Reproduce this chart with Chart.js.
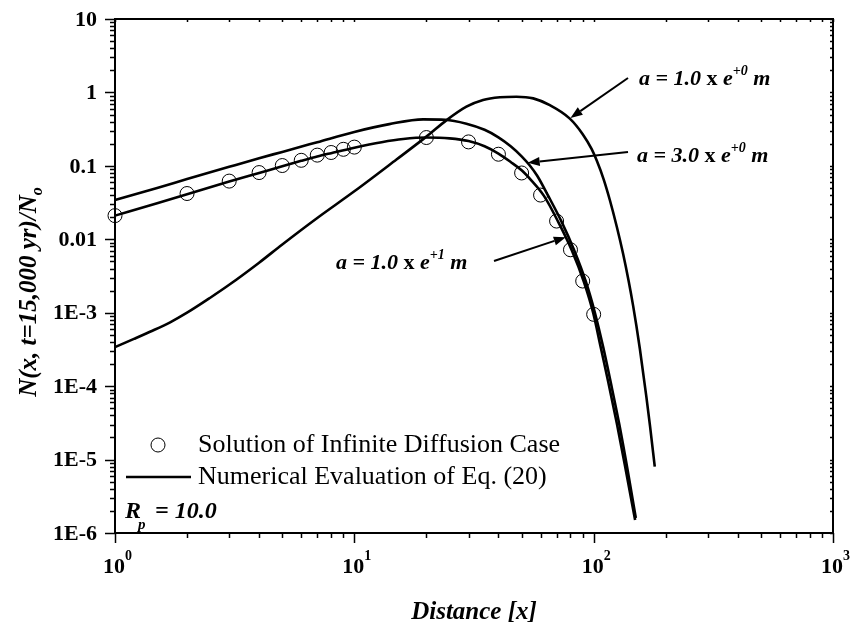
<!DOCTYPE html>
<html><head><meta charset="utf-8">
<script src="https://cdn.jsdelivr.net/npm/chart.js@4"></script>
<style>html,body{margin:0;padding:0;background:#fff}#wrap{width:850px;height:625px;position:relative}</style>
</head><body><div id="wrap"><canvas id="c" width="850" height="625"></canvas></div>
<script>
// ---- data ----
const circleX = [1, 2, 3, 4, 5, 6, 7, 8, 9, 10, 20, 30, 40, 50, 60, 70, 80, 90, 100];
const circleY = [0.021, 0.042, 0.062, 0.081, 0.101, 0.119, 0.14, 0.152, 0.168, 0.18, 0.243, 0.212, 0.144, 0.08, 0.04, 0.0177, 0.0072, 0.0027, 0.00095];

// a = 3.0 x e^+0 m
const xA = [1, 1.5, 2, 3, 4, 5, 7, 10, 14, 19.4, 24, 29.4, 35, 40, 45, 50, 54, 58, 64.6, 73.4, 82.9, 92.8, 101.2, 109.6, 118, 128, 140, 150];
const yA = [0.0343, 0.05, 0.066, 0.097, 0.127, 0.155, 0.21, 0.29, 0.37, 0.43, 0.425, 0.375, 0.31, 0.245, 0.185, 0.135, 0.102, 0.074, 0.039, 0.0174, 0.0071, 0.00264, 0.001, 0.00034, 0.00011, 0.00003, 0.000006, 0.0000016];

// a = 1.0 x e^+1 m
const xB = [1, 1.5, 2, 3, 4, 5, 6, 7, 8, 10, 13, 16, 20, 25, 30, 35, 40, 45, 50, 55, 62, 71, 81, 91, 99.5, 107, 115, 125, 137, 149];
const yB = [0.021, 0.031, 0.041, 0.061, 0.08, 0.099, 0.117, 0.134, 0.149, 0.177, 0.21, 0.232, 0.243, 0.237, 0.218, 0.185, 0.147, 0.113, 0.087, 0.063, 0.039, 0.0174, 0.0071, 0.00264, 0.001, 0.00034, 0.000115, 0.000031, 0.0000065, 0.0000015];

// a = 1.0 x e^+0 m
const xC = [1, 1.2, 1.4, 1.7, 2, 2.5, 3, 4, 5, 7, 10, 15, 20, 24.3, 29.4, 34.5, 40.6, 47.6, 55.9, 65.6, 79.5, 90, 98, 103, 110, 116.9, 125, 132.8, 140, 146.2, 151, 156, 166, 172, 180];
const yC = [0.00034, 0.00044, 0.00055, 0.00074, 0.001, 0.0016, 0.0024, 0.0048, 0.0085, 0.0195, 0.045, 0.122, 0.25, 0.42, 0.64, 0.79, 0.86, 0.875, 0.83, 0.67, 0.44, 0.27, 0.17, 0.118, 0.066, 0.034, 0.0147, 0.0063, 0.0027, 0.00124, 0.00065, 0.00032, 0.000072, 0.0000285, 0.000008];

const yTickValues = [10, 1, 0.1, 0.01, 1e-3, 1e-4, 1e-5, 1e-6];
const yTickLabels = ["10", "1", "0.1", "0.01", "1E-3", "1E-4", "1E-5", "1E-6"];
const xTickValues = [1, 10, 100, 1000];
const xTickExps = ["0", "1", "2", "3"];

const legendLabels = ["Solution of Infinite Diffusion Case", "Numerical Evaluation of Eq. (20)"];
const xTitle = "Distance [x]";

const pts = (xs, ys) => xs.map((x, i) => ({x: x, y: ys[i]}));

const SERIF = '"Liberation Serif", "Times New Roman", serif';

function drawArrow(ctx, x0, y0, x1, y1) {
  ctx.save();
  ctx.strokeStyle = '#000'; ctx.fillStyle = '#000'; ctx.lineWidth = 2;
  const ang = Math.atan2(y1 - y0, x1 - x0);
  const hl = 12, hw = 4.5;
  const bx = x1 - hl * Math.cos(ang), by = y1 - hl * Math.sin(ang);
  ctx.beginPath(); ctx.moveTo(x0, y0); ctx.lineTo(bx, by); ctx.stroke();
  ctx.beginPath();
  ctx.moveTo(x1, y1);
  ctx.lineTo(bx + hw * Math.sin(ang), by - hw * Math.cos(ang));
  ctx.lineTo(bx - hw * Math.sin(ang), by + hw * Math.cos(ang));
  ctx.closePath(); ctx.fill();
  ctx.restore();
}

function drawAnno(ctx, x, yMid, coef, exp) {
  const base = yMid + 7;
  const parts = [
    ['bold italic 22px ' + SERIF, 'a = ' + coef + ' ', 0],
    ['bold 22px ' + SERIF, 'x', 0],
    ['bold italic 22px ' + SERIF, ' e', 0],
    ['bold italic 14px ' + SERIF, exp, -10],
    ['bold italic 22px ' + SERIF, ' m', 0]
  ];
  ctx.textAlign = 'left'; ctx.textBaseline = 'alphabetic';
  let cx = x;
  for (const [f, t, dy] of parts) {
    ctx.font = f; ctx.fillText(t, cx, base + dy); cx += ctx.measureText(t).width;
  }
}

const framePlugin = {
  id: 'frame',
  afterDraw(chart) {
    const ctx = chart.ctx, a = chart.chartArea;
    const xs = chart.scales.x, ys = chart.scales.y;
    ctx.save();
    ctx.strokeStyle = '#000'; ctx.fillStyle = '#000';
    // frame
    ctx.lineWidth = 2;
    ctx.strokeRect(a.left, a.top, a.right - a.left, a.bottom - a.top);
    ctx.lineWidth = 1.5;
    ctx.beginPath();
    // x ticks
    for (let e = 0; e < 3; e++) {
      for (let k = 1; k <= 10; k++) {
        const v = k * Math.pow(10, e);
        const px = Math.round(xs.getPixelForValue(v)) + 0.5;
        const major = (k === 1 || k === 10);
        ctx.moveTo(px, a.bottom); ctx.lineTo(px, a.bottom + (major ? 10 : 5));
        ctx.moveTo(px, a.top); ctx.lineTo(px, a.top + 3);
      }
    }
    // y ticks
    for (let e = -6; e < 1; e++) {
      for (let k = 1; k <= 10; k++) {
        const v = k * Math.pow(10, e);
        const py = Math.round(ys.getPixelForValue(v)) + 0.5;
        const major = (k === 1 || k === 10);
        ctx.moveTo(a.left, py); ctx.lineTo(a.left - (major ? 10 : 5), py);
        ctx.moveTo(a.right, py); ctx.lineTo(a.right - 3, py);
      }
    }
    ctx.stroke();

    // y tick labels
    ctx.font = 'bold 22px ' + SERIF;
    ctx.textAlign = 'right'; ctx.textBaseline = 'middle';
    yTickValues.forEach((v, i) => ctx.fillText(yTickLabels[i], a.left - 18, ys.getPixelForValue(v) + 1));
    // x tick labels 10^n
    ctx.textBaseline = 'alphabetic';
    xTickValues.forEach((v, i) => {
      const px = xs.getPixelForValue(v);
      ctx.font = 'bold 22px ' + SERIF; ctx.textAlign = 'center';
      ctx.fillText('10', px - 1, a.bottom + 40);
      const w = ctx.measureText('10').width;
      ctx.font = 'bold 14px ' + SERIF; ctx.textAlign = 'left';
      ctx.fillText(xTickExps[i], px - 1 + w / 2, a.bottom + 27);
    });

    // axis titles
    ctx.font = 'bold italic 25px ' + SERIF;
    ctx.textAlign = 'center'; ctx.textBaseline = 'alphabetic';
    ctx.fillText(xTitle, (a.left + a.right) / 2, 619);
    // y title rotated
    ctx.save();
    ctx.translate(36, 292);
    ctx.rotate(-Math.PI / 2);
    const t1 = 'N(x, t=15,000 yr)/N';
    ctx.font = 'bold italic 25px ' + SERIF;
    const w1 = ctx.measureText(t1).width;
    ctx.font = 'bold italic 16px ' + SERIF;
    const w2 = ctx.measureText('o').width;
    const sx = -(w1 + w2) / 2;
    ctx.textAlign = 'left';
    ctx.font = 'bold italic 25px ' + SERIF;
    ctx.fillText(t1, sx, 0);
    ctx.font = 'bold italic 16px ' + SERIF;
    ctx.fillText('o', sx + w1, 6);
    ctx.restore();

    // legend
    ctx.lineWidth = 1;
    ctx.beginPath(); ctx.arc(158, 445, 7, 0, Math.PI * 2); ctx.stroke();
    ctx.lineWidth = 2.6;
    ctx.beginPath(); ctx.moveTo(126, 477); ctx.lineTo(191, 477); ctx.stroke();
    ctx.font = '26px ' + SERIF; ctx.textAlign = 'left'; ctx.textBaseline = 'middle';
    ctx.fillText(legendLabels[0], 198, 445);
    ctx.fillText(legendLabels[1], 198, 477);

    // R_p = 10.0
    ctx.textBaseline = 'alphabetic';
    ctx.font = 'bold italic 24px ' + SERIF;
    ctx.fillText('R', 125, 518);
    const wr = ctx.measureText('R').width;
    ctx.font = 'bold italic 15px ' + SERIF;
    ctx.fillText('p', 125 + wr - 3, 529);
    ctx.font = 'bold italic 24px ' + SERIF;
    ctx.fillText('= 10.0', 155, 518);

    // annotations with arrows pointing at curves
    drawAnno(ctx, 639, 78, '1.0', '+0');
    drawArrow(ctx, 628, 78, xs.getPixelForValue(80), ys.getPixelForValue(0.45));
    drawAnno(ctx, 637, 155, '3.0', '+0');
    drawArrow(ctx, 628, 152, xs.getPixelForValue(53), ys.getPixelForValue(0.11));
    drawAnno(ctx, 336, 262, '1.0', '+1');
    drawArrow(ctx, 494, 261, xs.getPixelForValue(76.5), ys.getPixelForValue(0.0107));
    ctx.restore();
  }
};

const lineStyle = {showLine: true, borderColor: '#000', borderWidth: 2.6, pointRadius: 0, fill: false, cubicInterpolationMode: 'monotone'};

new Chart(document.getElementById('c'), {
  type: 'scatter',
  data: {
    datasets: [
      Object.assign({label: 'a = 3.0', data: pts(xA, yA)}, lineStyle),
      Object.assign({label: 'a = 1.0 e+1', data: pts(xB, yB)}, lineStyle),
      Object.assign({label: 'a = 1.0', data: pts(xC, yC)}, lineStyle),
      {label: legendLabels[0], data: pts(circleX, circleY), showLine: false, pointStyle: 'circle',
       pointRadius: 7, pointBorderWidth: 1, pointBorderColor: '#000', pointBackgroundColor: 'rgba(0,0,0,0)'}
    ]
  },
  options: {
    responsive: false, animation: false, devicePixelRatio: 1,
    layout: {padding: {left: 115, right: 17, top: 19, bottom: 92}},
    scales: {
      x: {type: 'logarithmic', min: 1, max: 1000, display: false},
      y: {type: 'logarithmic', min: 1e-6, max: 10, display: false}
    },
    plugins: {legend: {display: false}, tooltip: {enabled: false}},
    clip: false
  },
  plugins: [framePlugin]
});
</script>
</body></html>
